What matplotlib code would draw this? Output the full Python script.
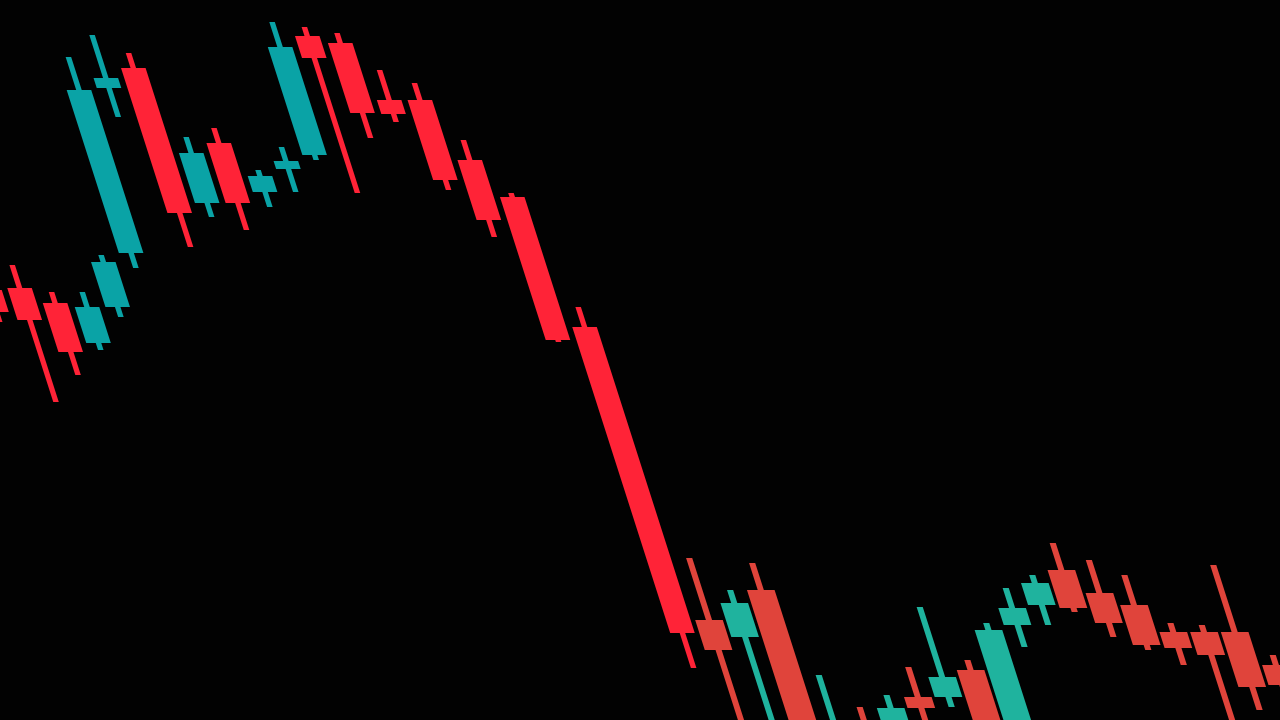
import numpy as np
import matplotlib
matplotlib.use("Agg")
import matplotlib.pyplot as plt
from matplotlib.transforms import Affine2D

opens = [143.0, 143.2, 141.7, 137.7, 141.3, 146.7, 163.2, 165.2, 151.7, 157.7,
         152.8, 155.1, 156.5, 168.4, 167.7, 162.0, 162.0, 156.0, 152.3, 139.3,
         110.0, 108.3, 113.0, 93.0, 99.5, 96.0, 102.3, 102.3, 105.0, 98.0,
         109.5, 111.5, 115.0, 112.7, 111.5, 108.8, 108.8, 108.8, 105.5]
highs = [144.0, 145.5, 142.8, 142.8, 146.5, 166.3, 168.5, 166.7, 158.3, 159.2,
         155.0, 157.3, 169.8, 169.3, 168.7, 165.0, 163.7, 158.0, 152.7, 141.3,
         116.2, 113.0, 115.7, 104.5, 101.3, 102.5, 105.3, 111.3, 106.0, 109.7,
         113.2, 114.5, 117.7, 116.0, 114.5, 109.7, 109.5, 115.5, 106.5]
lows = [139.8, 131.8, 134.5, 137.0, 140.3, 145.2, 160.3, 147.3, 150.3, 149.0,
        151.3, 152.8, 156.0, 152.7, 158.2, 159.8, 153.0, 148.3, 137.8, 105.2,
        98.0, 98.0, 94.0, 92.0, 94.0, 94.0, 98.0, 101.3, 95.0, 97.0,
        107.3, 109.5, 110.8, 108.3, 107.0, 105.5, 98.0, 101.0, 102.0]
closes = [140.8, 140.0, 136.8, 141.3, 145.8, 163.0, 164.2, 150.7, 156.7, 151.7,
          154.4, 155.9, 167.3, 166.2, 160.7, 160.6, 154.0, 150.0, 138.0, 108.7,
          107.0, 111.7, 96.0, 98.0, 96.0, 101.2, 101.2, 104.3, 97.0, 109.0,
          111.2, 113.7, 111.2, 109.7, 107.5, 107.2, 106.5, 103.3, 103.5]

# the upper candles glow brighter on the screen than the lower cluster
bright_up, bright_down = "#0aa3a6", "#ff2337"
dim_up, dim_down = "#1fb39e", "#e0443b"
split_index = 20

x = np.arange(len(opens))
opens = np.array(opens)
closes = np.array(closes)
highs = np.array(highs)
lows = np.array(lows)

colors = []
for i in x:
    up = closes[i] >= opens[i]
    if i < split_index:
        colors.append(bright_up if up else bright_down)
    else:
        colors.append(dim_up if up else dim_down)

# lower-right candles are nearer the camera, so they look a bit wider
body_widths = np.where(x < split_index, 0.8, 0.9)
wick_widths = np.where(x < split_index, 0.18, 0.2)

fig = plt.figure(figsize=(12.8, 7.2), dpi=100, facecolor="#020202")
ax = fig.add_axes([0, 0, 1, 1])
ax.set_facecolor("#020202")

# the photo is taken at an angle, so lean every candle to the right
tilt = ax.transData + Affine2D().skew(np.arctan(-0.32), 0)

body_bottom = np.minimum(opens, closes)
body_height = np.abs(closes - opens)

ax.bar(x, highs - lows, bottom=lows, width=wick_widths, color=colors,
       linewidth=0, transform=tilt)
ax.bar(x, body_height, bottom=body_bottom, width=body_widths, color=colors,
       linewidth=0, transform=tilt)

ax.set_xlim(-4.14, 37.56)
ax.set_ylim(100, 172)
ax.axis("off")

fig.savefig("out.png", dpi=100, facecolor=fig.get_facecolor())
print("saved out.png")
